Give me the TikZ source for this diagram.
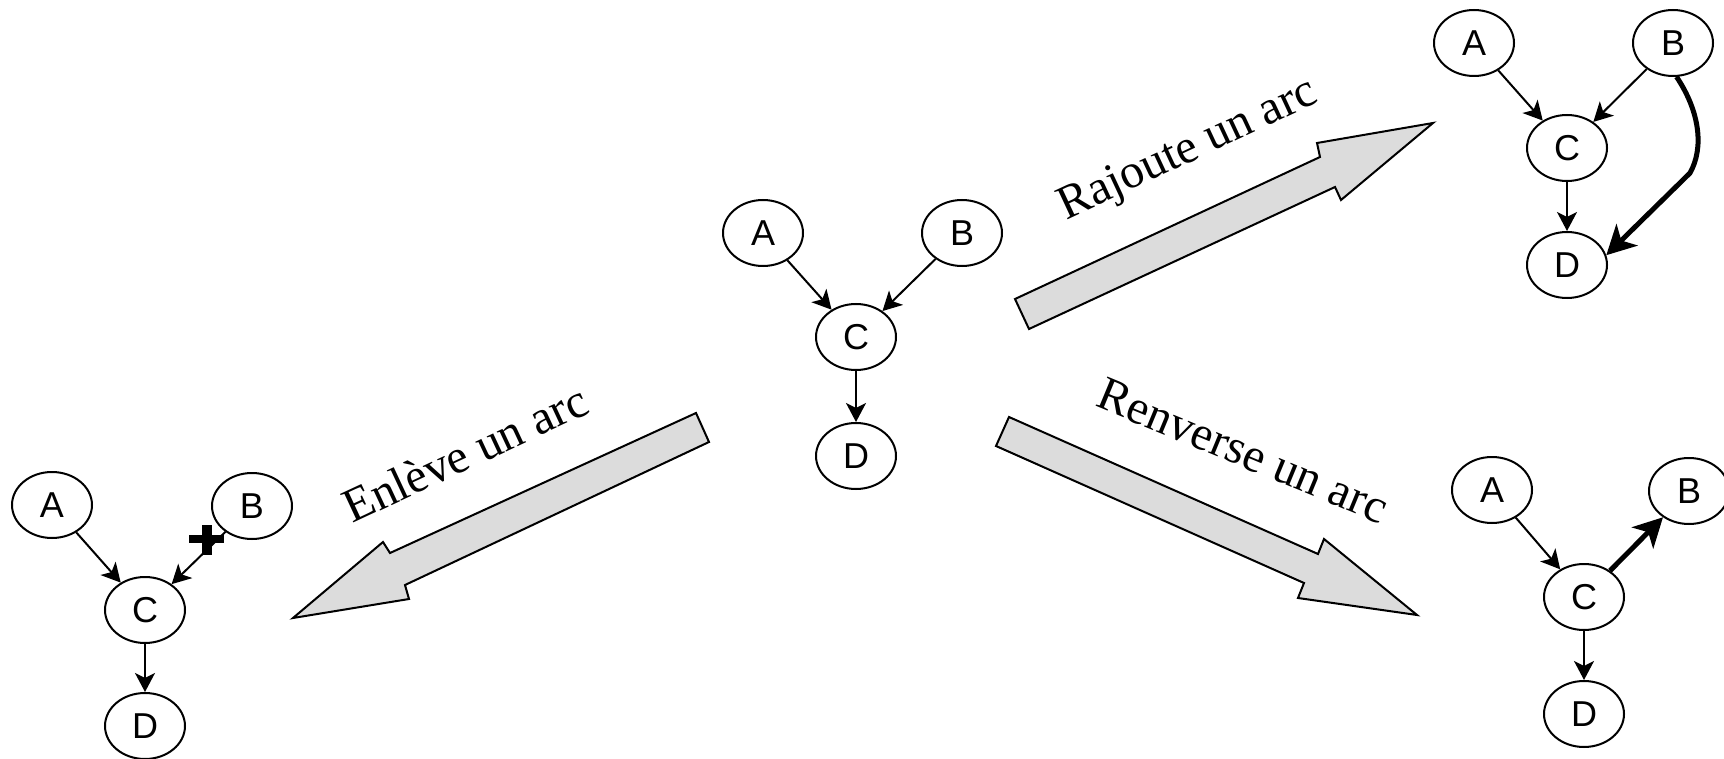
\documentclass[tikz,border=0pt]{standalone}
\usepackage{fontspec}
\newfontfamily\nodesans{Liberation Sans}
\newfontfamily\labserif{Liberation Serif}
\usetikzlibrary{shapes.geometric,arrows.meta}
\definecolor{arrowgrey}{HTML}{DCDCDC}
\tikzset{
  var/.style={ellipse, draw, line width=1pt, minimum width=40pt, minimum height=33pt,
    inner sep=0pt, font=\nodesans\fontsize{18pt}{20pt}\selectfont},
  edge/.style={-{Stealth[length=9.5pt,width=10pt,inset=2.5pt]}, line width=1pt},
  boldedge/.style={-{Stealth[length=14.5pt,width=15pt,inset=4pt]}, line width=2.5pt},
  bigarrow/.style={draw, line width=1pt, fill=arrowgrey, line join=miter},
  lab/.style={font=\labserif\fontsize{24pt}{27pt}\selectfont, anchor=base, inner sep=0pt}
}
\begin{document}
\begin{tikzpicture}[x=0.5pt,y=-0.5pt]
\useasboundingbox (0,0) rectangle (1724,759);
\clip (0,0) rectangle (1724,759);

% centre graph
\node[var] (cA) at (763,233) {A};
\node[var] (cB) at (962,233) {B};
\node[var] (cC) at (856,337) {C};
\node[var] (cD) at (856,456) {D};
\draw[edge] (cA) -- (cC);
\draw[edge] (cB) -- (cC);
\draw[edge] (cC) -- (cD);

% top right: add an arc
\node[var] (rA) at (1474,43) {A};
\node[var] (rB) at (1673,43) {B};
\node[var] (rC) at (1567,148) {C};
\node[var] (rD) at (1567,265) {D};
\draw[edge] (rA) -- (rC);
\draw[edge] (rB) -- (rC);
\draw[edge] (rC) -- (rD);
\coordinate (rbend) at (1690,173);
\draw[boldedge, line join=round] (rB.-84) .. controls (1700,112) and (1704,148) .. (rbend) -- (rD.14);

% bottom right: reverse an arc
\node[var] (vA) at (1492,490) {A};
\node[var] (vB) at (1689,491) {B};
\node[var] (vC) at (1584,597) {C};
\node[var] (vD) at (1584,714) {D};
\draw[edge] (vA) -- (vC);
\draw[boldedge] (vC) -- (vB);
\draw[edge] (vC) -- (vD);

% bottom left: remove an arc
\node[var] (lA) at (52,505) {A};
\node[var] (lB) at (252,506) {B};
\node[var] (lC) at (145,610) {C};
\node[var] (lD) at (145,726) {D};
\draw[edge] (lA) -- (lC);
\draw[edge] (lB) -- (lC);
\draw[edge] (lC) -- (lD);
\coordinate (cross) at (207,539);
\draw[line width=3.8pt] ([xshift=-9pt]cross) -- ([xshift=8.5pt]cross);
\draw[line width=4.6pt] ([yshift=7pt]cross) -- ([yshift=-8pt]cross);

% big arrows
\draw[bigarrow] (1015,299) -- (1320,157) -- (1317,143) -- (1433,123) -- (1341,200)
  -- (1335,187) -- (1029,329) -- cycle;
\draw[bigarrow] (696,413) -- (390,553) -- (383,542) -- (293,618) -- (409,599)
  -- (405,585) -- (709,442) -- cycle;
\draw[bigarrow] (1009,417) -- (1318,554) -- (1324,539) -- (1417,615) -- (1298,598)
  -- (1304,583) -- (996,446) -- cycle;

% labels
\node[lab, rotate=25] (lr) at (1193,161) {Rajoute un arc};
\node[lab, rotate=25] (le) at (472,468) {Enlève un arc};
\node[lab, rotate=-22.5] (lv) at (1237,465) {Renverse un arc};
\end{tikzpicture}
\end{document}
